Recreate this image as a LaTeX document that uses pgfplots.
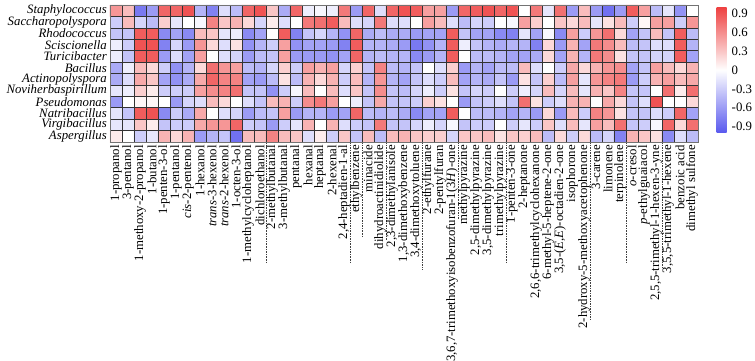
\documentclass[border=0pt]{standalone}
\usepackage{fontspec}
\setmainfont{Liberation Serif}
\usepackage{pgfplots}
\usepackage{pgfplotstable}
\pgfplotsset{compat=1.18}
\pgfplotsset{colormap={bwr}{rgb255=(88,88,238) rgb255=(255,255,255) rgb255=(238,64,64)}}

% rows: Staphylococcus ... Aspergillus ; columns: 49 compounds
\pgfplotstableread[header=false]{
0.55 0.35 -0.8 -0.6 0.8 0.8 0.9 -0.45 -0.75 -0.2 -0.4 0.8 0.9 0.3 -0.5 0.8 -0.1 -0.05 -0.1 0.7 -0.6 0.8 -0.2 0.8 0.9 0.85 0.5 0.5 -0.6 0.8 0.85 0.9 0.8 0.9 0.0 0.7 -0.15 0.75 -0.6 0.35 -0.6 -0.85 -0.6 0.85 0.5 -0.4 -0.15 -0.65 0.0
-0.3 0.35 -0.25 -0.4 0.25 -0.15 0.0 -0.05 0.65 0.3 0.4 0.2 -0.25 0.1 -0.2 0.0 0.7 0.75 0.85 0.35 -0.2 -0.25 0.7 -0.2 -0.2 0.0 0.5 0.35 -0.2 -0.4 -0.25 -0.3 0.0 -0.05 0.5 0.25 0.0 0.3 0.2 0.35 -0.15 0.15 0.35 -0.3 0.05 0.5 0.5 -0.3 0.55
-0.35 -0.35 0.85 0.85 -0.7 -0.55 -0.7 0.35 0.3 -0.15 -0.1 -0.7 -0.55 0.0 0.85 -0.75 -0.35 -0.25 -0.45 -0.65 0.8 -0.5 -0.4 -0.5 -0.5 -0.6 -0.55 -0.55 0.85 -0.35 -0.55 -0.55 -0.7 -0.75 -0.15 -0.55 -0.05 -0.7 0.5 -0.3 0.55 0.75 0.2 -0.55 -0.35 0.35 -0.35 0.85 -0.4
-0.1 -0.3 0.9 0.9 -0.75 -0.25 -0.6 0.55 0.2 -0.2 0.15 -0.65 -0.45 -0.3 0.5 -0.65 -0.55 -0.55 -0.6 -0.75 0.85 -0.45 -0.45 -0.5 -0.6 -0.8 -0.65 -0.45 0.85 -0.1 -0.35 -0.45 -0.5 -0.45 -0.45 -0.75 0.2 -0.6 0.4 -0.55 0.7 0.6 0.35 -0.4 -0.35 -0.2 -0.2 0.85 -0.45
-0.1 -0.35 0.85 0.85 -0.6 -0.2 -0.55 0.5 0.0 -0.2 -0.25 -0.6 -0.4 -0.35 0.5 -0.6 -0.6 -0.6 -0.65 -0.55 0.8 -0.45 -0.4 -0.45 -0.45 -0.7 -0.6 -0.45 0.85 0.0 -0.4 -0.4 -0.45 -0.55 -0.55 -0.5 0.2 -0.55 0.4 -0.45 0.7 0.6 0.15 -0.35 -0.35 -0.25 -0.25 0.85 -0.55
-0.5 -0.1 0.35 0.2 -0.3 -0.65 -0.45 0.2 0.75 0.55 0.5 -0.4 -0.45 -0.25 0.25 -0.3 0.5 0.4 0.5 -0.25 0.25 -0.35 0.65 -0.4 -0.45 -0.35 0.0 -0.2 0.25 -0.6 -0.45 -0.55 -0.4 -0.4 0.35 -0.2 0.0 -0.3 0.45 0.2 0.4 0.55 0.6 -0.55 -0.35 0.5 0.35 0.2 0.4
-0.5 -0.2 0.45 0.3 -0.55 -0.65 -0.5 0.45 0.8 0.65 0.65 -0.55 -0.6 -0.4 0.15 -0.4 0.4 0.2 0.4 -0.3 0.35 -0.45 0.55 -0.45 -0.55 -0.35 -0.2 -0.3 0.35 -0.55 -0.45 -0.5 -0.35 -0.6 0.15 -0.35 0.25 -0.4 0.5 -0.15 0.55 0.65 0.7 -0.6 -0.3 0.4 0.5 0.35 0.45
-0.15 -0.1 0.25 0.1 -0.3 -0.3 -0.3 0.5 0.6 0.65 0.75 -0.35 -0.35 -0.65 -0.3 -0.05 0.35 0.0 0.35 -0.2 0.3 -0.35 0.6 -0.35 -0.4 -0.25 -0.1 -0.3 0.15 -0.35 -0.25 -0.3 0.0 -0.3 -0.1 -0.25 0.35 -0.25 0.35 -0.15 0.4 0.3 0.65 -0.35 -0.35 0.0 0.75 0.1 0.75
-0.6 0.0 0.05 0.05 0.0 -0.6 -0.25 -0.2 0.35 0.2 0.0 -0.2 -0.35 0.35 0.4 -0.3 0.6 0.7 0.5 0.0 -0.1 -0.35 0.45 -0.35 -0.35 -0.3 0.25 0.15 0.0 -0.6 -0.35 -0.3 -0.2 -0.35 0.75 0.15 -0.3 -0.2 0.4 0.4 0.0 0.45 0.2 -0.35 -0.2 0.9 0.0 0.0 0.2
-0.15 -0.35 0.85 0.9 -0.7 -0.3 -0.5 0.45 0.0 -0.2 -0.25 -0.6 -0.4 -0.35 0.5 -0.6 -0.45 -0.45 -0.6 -0.55 0.8 -0.4 -0.45 -0.4 -0.5 -0.7 -0.55 -0.55 0.85 0.0 -0.4 -0.4 -0.45 -0.55 -0.45 -0.6 0.2 -0.6 0.35 -0.3 0.65 0.55 0.15 -0.35 -0.35 -0.2 -0.3 0.8 -0.55
-0.15 -0.15 0.3 0.1 -0.35 -0.3 -0.3 0.45 0.55 0.55 0.8 -0.3 -0.35 -0.6 -0.3 -0.15 0.4 0.0 0.4 -0.2 -0.3 -0.35 0.7 -0.35 -0.35 -0.25 -0.1 -0.25 -0.05 -0.35 -0.3 -0.3 0.0 -0.3 -0.15 -0.3 0.3 -0.2 0.35 -0.15 0.5 0.35 0.75 -0.35 -0.3 -0.05 0.8 0.2 0.75
0.1 0.0 -0.3 -0.15 0.4 0.2 0.4 -0.6 -0.45 -0.35 -0.85 0.35 0.35 0.65 0.35 0.3 -0.2 0.1 -0.3 0.3 -0.35 0.35 -0.4 0.35 0.4 0.3 0.25 0.25 -0.25 0.3 0.3 0.35 0.15 0.3 0.25 0.35 -0.4 0.2 -0.3 0.2 -0.4 -0.25 -0.75 0.4 0.3 0.15 -0.7 -0.2 -0.4
}\heattable

\def\heatcoords{}
\foreach \r in {0,...,11}{%
  \foreach \c in {0,...,48}{%
    \pgfplotstablegetelem{\r}{[index]\c}\of\heattable%
    \pgfmathtruncatemacro\xx{\c+1}%
    \pgfmathtruncatemacro\yy{\r+1}%
    \xdef\heatcoords{\heatcoords (\xx,\yy) [\pgfplotsretval]}%
  }%
}
\edef\heatplot{\noexpand\addplot[matrix plot*, mesh/cols=49, point meta=explicit] coordinates {\heatcoords};}

\begin{document}
\begin{tikzpicture}
\useasboundingbox (0,0) rectangle (755pt,-361pt);
\begin{axis}[
  at={(110pt,-5pt)}, anchor=north west,
  scale only axis, width=588pt, height=137pt,
  xmin=0.5, xmax=49.5, ymin=0.5, ymax=12.5, y dir=reverse,
  colormap name=bwr, point meta min=-1, point meta max=1,
  xtick={1,...,49},
  xticklabels={{1-propanol},{3-pentanol},{1-methoxy-2-propanol},{1-butanol},{1-penten-3-ol},{1-pentanol},{\textit{cis}-2-pentenol},{1-hexanol},{\textit{trans}-3-hexenol},{\textit{trans}-2-hexenol},{1-octen-3-ol},{1-methylcycloheptanol},{dichloroethanol},{2-methylbutanal},{3-methylbutanal},{pentanal},{hexanal},{heptanal},{2-hexenal},{2,4-heptadien-1-al},{ethylbenzene},{minacide},{dihydroactinidiolide},{2,3-dimethylanisole},{1,3-dimethoxybenzene},{3,4-dimethoxytoluene},{2-ethylfurane},{2-pentylfuran},{3,6,7-trimethoxyisobenzofuran-1(3\textit{H})-one},{methylpyrazine},{2,5-dimethylpyrazine},{3,5-dimethylpyrazine},{trimethylpyrazine},{1-penten-3-one},{2-heptanone},{2,6,6-trimethylcyclohexanone},{6-methyl-5-heptene-2-one},{3,5-(\textit{E},\textit{E})-octadien-2-one},{isophorone},{2-hydroxy-5-methoxyacetophenone},{3-carene},{limonene},{terpinolene},{\textit{o}-cresol},{\textit{p}-ethylguaiacol},{2,5,5-trimethyl-1-hexen-3-yne},{3,5,5-trimethyl-1-hexene},{benzoic acid},{dimethyl sulfone}},
  ytick={1,...,12},
  yticklabels={Staphylococcus,Saccharopolyspora,Rhodococcus,Sciscionella,Turicibacter,Bacillus,Actinopolyspora,Noviherbaspirillum,Pseudomonas,Natribacillus,Virgibacillus,Aspergillus},
  major tick length=0pt, minor tick length=0pt,
  minor xtick={0.5,1.5,...,49.5}, minor ytick={0.5,1.5,...,12.5},
  xminorgrids=true, yminorgrids=true,
  minor grid style={black!80, line width=0.55pt},
  axis on top, clip=false,
  axis line style={black!55, line width=0.6pt},
  xticklabel style={font=\fontsize{12.8}{13}\selectfont, rotate=90, anchor=east, inner sep=0pt, inner xsep=3pt},
  yticklabel style={font=\fontsize{12.8}{13}\selectfont\itshape, anchor=east, inner sep=0pt, inner xsep=3pt},
  colorbar,
  colorbar style={
    at={(parent axis.north east)}, anchor=north west, xshift=10pt, yshift=-2pt,
    scale only axis, width=10pt, height=126pt,
    ytick={-0.9,-0.6,-0.3,0,0.3,0.6,0.9},
    yticklabels={\mbox{-0.9},\mbox{-0.6},\mbox{-0.3},\mbox{0},\mbox{0.3},\mbox{0.6},\mbox{0.9}},
    major tick length=0pt, minor tick length=0pt,
    xminorgrids=false, yminorgrids=false,
    axis line style={draw=none},
    yticklabel style={font=\fontsize{12.8}{13}\selectfont, anchor=west, inner sep=0pt, inner xsep=5pt},
  },
]
\heatplot
\draw[black!75, line width=0.5pt, dash pattern=on 1.6pt off 1pt] (axis cs:13.5,12.5) -- ++(0pt,-121pt);
\draw[black!75, line width=0.5pt, dash pattern=on 1.6pt off 1pt] (axis cs:20.5,12.5) -- ++(0pt,-120pt);
\draw[black!75, line width=0.5pt, dash pattern=on 1.6pt off 1pt] (axis cs:21.5,12.5) -- ++(0pt,-95pt);
\draw[black!75, line width=0.5pt, dash pattern=on 1.6pt off 1pt] (axis cs:23.5,12.5) -- ++(0pt,-98pt);
\draw[black!75, line width=0.5pt, dash pattern=on 1.6pt off 1pt] (axis cs:26.5,12.5) -- ++(0pt,-128pt);
\draw[black!75, line width=0.5pt, dash pattern=on 1.6pt off 1pt] (axis cs:29.5,12.5) -- ++(0pt,-78pt);
\draw[black!75, line width=0.5pt, dash pattern=on 1.6pt off 1pt] (axis cs:33.5,12.5) -- ++(0pt,-120pt);
\draw[black!75, line width=0.5pt, dash pattern=on 1.6pt off 1pt] (axis cs:40.5,12.5) -- ++(0pt,-178pt);
\draw[black!75, line width=0.5pt, dash pattern=on 1.6pt off 1pt] (axis cs:43.5,12.5) -- ++(0pt,-120pt);
\draw[black!75, line width=0.5pt, dash pattern=on 1.6pt off 1pt] (axis cs:46.5,12.5) -- ++(0pt,-125pt);
\end{axis}
\end{tikzpicture}
\end{document}
